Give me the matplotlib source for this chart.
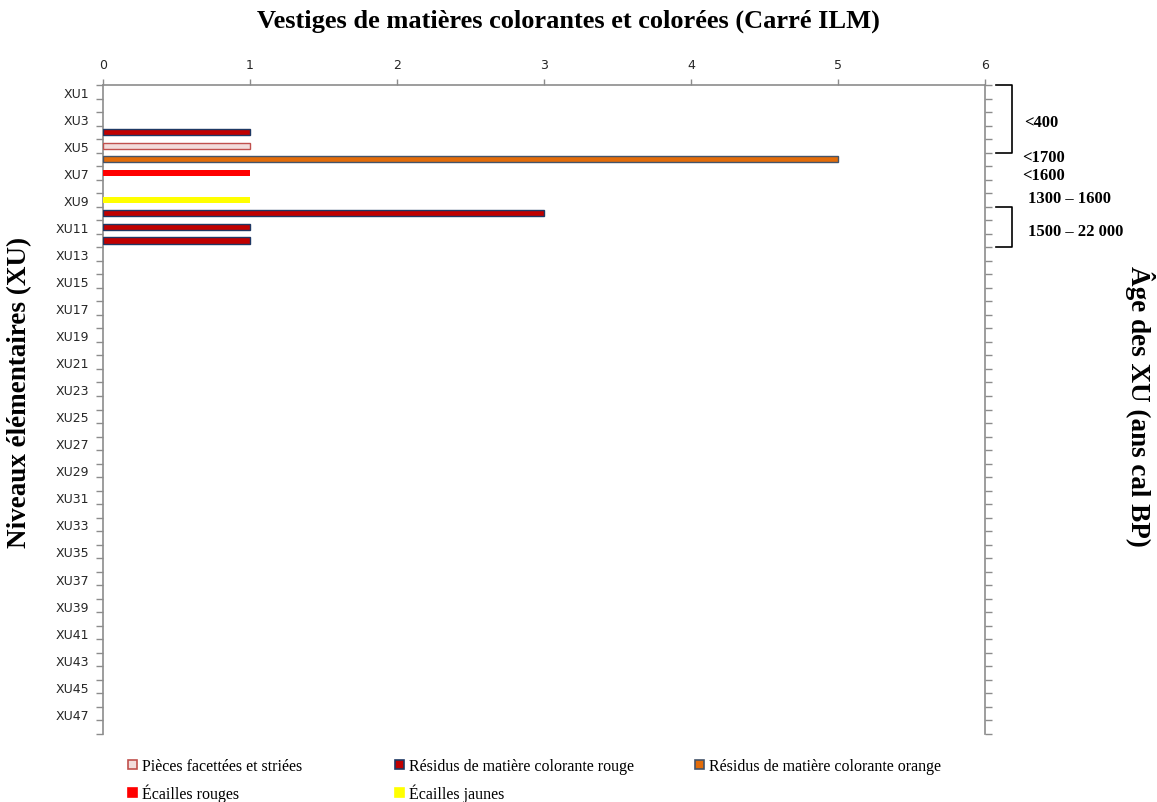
import numpy as np
import matplotlib
matplotlib.use("Agg")
import matplotlib.pyplot as plt
from matplotlib.patches import Patch
from matplotlib.lines import Line2D
from matplotlib.transforms import blended_transform_factory

# Levels XU1 .. XU48 (top to bottom)
levels = ["XU%d" % i for i in range(1, 49)]

# counts per level, only XU1-XU12 have material, the rest are empty
pieces_facettees = [0, 0, 0, 0, 1, 0, 0, 0, 0, 0, 0, 0]
residus_rouge    = [0, 0, 0, 1, 0, 0, 0, 0, 0, 3, 1, 1]
residus_orange   = [0, 0, 0, 0, 0, 5, 0, 0, 0, 0, 0, 0]
ecailles_rouges  = [0, 0, 0, 0, 0, 0, 1, 0, 0, 0, 0, 0]
ecailles_jaunes  = [0, 0, 0, 0, 0, 0, 0, 0, 1, 0, 0, 0]

# age brackets on the right: (text, first level, last level, text row)
ages = [("<400", "XU1", "XU5", 2.25),
        ("<1700", None, None, 4.85),
        ("<1600", None, None, 6.15),
        ("1300 \u2013 1600", None, None, 7.85),
        ("1500 \u2013 22 000", "XU10", "XU12", 10.3)]

series = [
    ("Pièces facettées et striées", pieces_facettees, "#f2dcdb", "#c0504d"),
    ("Résidus de matière colorante rouge", residus_rouge, "#c00000", "#1f3864"),
    ("Résidus de matière colorante orange", residus_orange, "#e36c09", "#44546a"),
    ("Écailles rouges", ecailles_rouges, "#ff0000", "none"),
    ("Écailles jaunes", ecailles_jaunes, "#ffff00", "none"),
]

W, H = 1157, 803
fig = plt.figure(figsize=(W / 100, H / 100), dpi=100)
ax = fig.add_axes([103 / W, 1 - 735 / H, (985 - 103) / W, (735 - 86) / H])

n = len(levels)
y = np.arange(n)
left = np.zeros(n)
for name, vals, fc, ec in series:
    v = np.zeros(n)
    v[:len(vals)] = vals
    m = v > 0
    ax.barh(y[m], v[m], left=left[m], height=0.45, color=fc,
            edgecolor=ec, linewidth=1.0 if ec != "none" else 0, zorder=3)
    left += v

grey = "#8c8c8c"
ax.set_xlim(0, 6)
ax.set_ylim(n - 0.5, -0.5)
ax.xaxis.tick_top()
ax.set_xticks(range(7))
ax.tick_params(axis="x", which="major", direction="out", length=4, width=1,
               color=grey, labelsize=9, labelcolor="#262626", pad=6)

# labels on odd levels, ticks between levels on both sides
ax.set_yticks(y[::2])
ax.set_yticklabels(levels[::2])
ax.set_yticks(np.arange(n + 1) - 0.5, minor=True)
ax.tick_params(axis="y", which="major", length=0, labelsize=9,
               labelcolor="#262626", pad=10)
ax.tick_params(axis="y", which="minor", direction="out", length=5, width=1,
               color=grey, left=True, right=True)

for s in ("top", "left", "right"):
    ax.spines[s].set_color(grey)
    ax.spines[s].set_linewidth(1.2)
ax.spines["bottom"].set_visible(False)

serif = "Liberation Serif"
fig.text(568 / W, 1 - 21 / H,
         "Vestiges de matières colorantes et colorées (Carré ILM)",
         ha="center", va="center", fontsize=19, fontweight="bold",
         family=serif)
fig.text(20 / W, 1 - 392 / H, "Niveaux élémentaires (XU)", rotation=90,
         ha="center", va="center", fontsize=19.5, fontweight="bold",
         family=serif)
fig.text(1140 / W, 1 - 406 / H, "Âge des XU (ans cal BP)", rotation=270,
         ha="center", va="center", fontsize=19.5, fontweight="bold",
         family=serif)

# brackets and ages next to the right axis
tr = blended_transform_factory(fig.transFigure, ax.transData)
x0, x1 = 996 / W, 1012 / W
for text, first, last, row in ages:
    if first is not None:
        a = levels.index(first) - 0.5
        b = levels.index(last) + 0.5
        fig.add_artist(Line2D([x0, x1, x1, x0], [a, a, b, b], transform=tr,
                              color="black", linewidth=1.2))
        tx = 1024 / W if text.startswith("<") else 1028 / W
    else:
        tx = 1022 / W if text.startswith("<") else 1028 / W
    fig.text(tx, row, text, transform=tr, ha="left", va="center",
             fontsize=12, fontweight="bold", family=serif)

# legend, one column per block like the spreadsheet layout
handles = [Patch(facecolor=fc, edgecolor=(ec if ec != "none" else fc),
                 linewidth=1.2) for _, _, fc, ec in series]
labels = [s[0] for s in series]
columns = [(128, [0, 3]), (395, [1, 4]), (695, [2])]
for cx, idx in columns:
    fig.legend([handles[i] for i in idx], [labels[i] for i in idx],
               loc="upper left", bbox_to_anchor=(cx / W, 1 - 759 / H),
               frameon=False, borderpad=0, borderaxespad=0,
               handlelength=0.55, handleheight=0.55, handletextpad=0.3,
               labelspacing=0.6, prop={"family": serif, "size": 11.5})

fig.savefig("out.png", dpi=100)
